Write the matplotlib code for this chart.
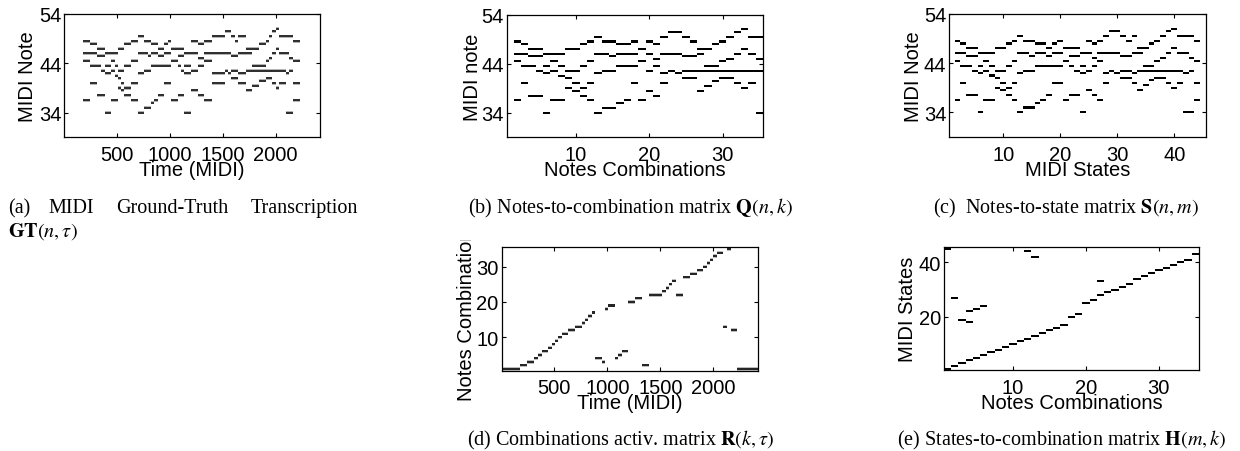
import matplotlib
matplotlib.use("Agg")
import matplotlib.pyplot as plt
from matplotlib.transforms import Bbox, TransformedBbox

# ---------------- data ----------------
# notes (MIDI note axis position) present in each notes combination k = 1..35
combo_ids = list(range(1, 36))
combo_notes = [
    [],
    [48.5, 46, 44.5, 36.5],
    [48, 46, 43.5, 40],
    [47, 45.5, 43.5, 37.5],
    [47, 45.5, 42.5, 37.5],
    [46, 43.5, 42, 34],
    [46, 44.5, 42.5, 36.5],
    [46, 43.5, 41.5, 36.5],
    [47, 42.5, 41, 39],
    [47, 42.5, 40, 38.5],
    [48, 43.5, 39, 37.5],
    [48.5, 44.5, 40, 36.5],
    [49.5, 46, 42, 34],
    [48.5, 46, 42.5, 35],
    [48.5, 45.5, 42.5, 35],
    [48, 46, 43.5, 36],
    [48, 46, 43.5, 36.5],
    [48.5, 46, 43.5, 40],
    [47, 44.5, 36.5],
    [48.5, 46, 42.5, 38.5],
    [48, 45, 43.5, 37.5],
    [49.5, 46, 42, 40],
    [50.5, 46, 42.5],
    [50.5, 46, 42],
    [49.5, 45.5, 42.5, 41],
    [48.5, 45.5, 42.5, 41],
    [47, 46, 42.5, 38.5],
    [47, 43.5, 42.5, 39.5],
    [48, 43.5, 42.5, 40.5],
    [48.5, 44.5, 42.5, 41],
    [49.5, 45, 42.5, 41],
    [50.5, 46, 42.5, 40],
    [51, 47, 42.5, 39],
    [49.5, 46, 42.5, 40],
    [49.5, 45, 42.5, 34],
]

# MIDI states m = 1..45 (temporal order) -> notes combination they use
state_ids = list(range(1, 46))
state_combo = [1, 2, 3, 4, 5, 6, 7, 8, 9, 10, 11, 12, 13, 14, 15, 16, 17,
               4, 3, 18, 19, 4, 5, 6, 20, 21, 2, 22, 23, 24, 25, 26, 22,
               27, 28, 29, 30, 31, 32, 33, 34, 13, 35, 12, 1]

# time boundaries (MIDI time units) of the 45 states
state_bounds = [0, 176, 239, 308, 349, 381, 443, 475, 506, 538, 569, 632, 695,
                758, 789, 821, 852, 884, 947, 978, 1010, 1072, 1104, 1135, 1198,
                1261, 1324, 1393, 1519, 1550, 1582, 1613, 1645, 1717, 1780, 1843,
                1906, 1937, 1969, 2000, 2032, 2095, 2126, 2164, 2227, 2420]

note_ticks = [34, 44, 54]
time_ticks = [500, 1000, 1500, 2000]
combo_ticks = [10, 20, 30]
state_ticks = [10, 20, 30, 40]
combo_yticks = [10, 20, 30]
state_yticks = [20, 40]

# ---------------- figure ----------------
W, H = 1240, 452
plt.rcParams['font.family'] = ['Liberation Sans', 'DejaVu Sans']
plt.rcParams['mathtext.fontset'] = 'stix'
fig = plt.figure(figsize=(W / 100, H / 100), dpi=100)

FS = 14.5
CAP_FS = 14.5
SERIF = ['Liberation Serif', 'DejaVu Serif']


def make_ax(l, t, r, b):
    ax = fig.add_axes([l / W, 1 - b / H, (r - l) / W, (b - t) / H])
    ax.tick_params(direction='in', top=True, right=True, length=3, width=0.8,
                   labelsize=FS)
    ax.tick_params(axis='x', pad=5.5)
    ax.tick_params(axis='y', pad=2)
    for s in ax.spines.values():
        s.set_linewidth(0.9)
    ax._box = (l, t, r, b)
    return ax


def ylab(ax, text, x_base):
    l, t, r, b = ax._box
    return ax.text((x_base - l) / (r - l), 0.5, text, rotation=90,
                   rotation_mode='anchor', ha='center', va='baseline',
                   transform=ax.transAxes, fontsize=FS)


def xlab(ax, text):
    l, t, r, b = ax._box
    ax.text(0.5, -37.7 / (b - t), text, ha='center', va='baseline',
            transform=ax.transAxes, fontsize=FS)


BAR_H = 0.42

# flattened tables
q_x, q_y = [], []
for k, notes in zip(combo_ids, combo_notes):
    for n in notes:
        q_x.append(k)
        q_y.append(n)

s_x, s_y = [], []
gt_left, gt_w, gt_y = [], [], []
r_left, r_w = [], []
for i, (m, k) in enumerate(zip(state_ids, state_combo)):
    t0, t1 = state_bounds[i], state_bounds[i + 1]
    r_left.append(t0)
    r_w.append(t1 - t0)
    for n in combo_notes[k - 1]:
        s_x.append(m)
        s_y.append(n)
        gt_left.append(t0)
        gt_w.append(t1 - t0)
        gt_y.append(n)

# (a) ground truth
axa = make_ax(64.4, 15, 320, 138.3)
axa.barh(gt_y, gt_w, left=gt_left, height=0.62, color='#b4b4b4', linewidth=0)
axa.barh(gt_y, gt_w, left=gt_left, height=0.40, color='#303030', linewidth=0)
axa.set_xlim(0, 2420)
axa.set_ylim(29, 54)
axa.set_xticks(time_ticks)
axa.set_yticks(note_ticks)
ylab(axa, 'MIDI Note', 33.3)
xlab(axa, 'Time (MIDI)')

# (b) Q matrix
axb = make_ax(506.5, 15.5, 763, 138.3)
axb.bar(q_x, [BAR_H] * len(q_y), bottom=[y - BAR_H / 2 for y in q_y],
        width=1.0, color='k', linewidth=0)
axb.set_xlim(0.5, 35.5)
axb.set_ylim(29, 54)
axb.set_xticks(combo_ticks)
axb.set_yticks(note_ticks)
ylab(axb, 'MIDI note', 478.3)
xlab(axb, 'Notes Combinations')

# (c) S matrix
axc = make_ax(949, 15, 1205.7, 138)
axc.bar(s_x, [BAR_H] * len(s_y), bottom=[y - BAR_H / 2 for y in s_y],
        width=1.0, color='k', linewidth=0)
axc.set_xlim(0.5, 45.5)
axc.set_ylim(29, 54)
axc.set_xticks(state_ticks)
axc.set_yticks(note_ticks)
ylab(axc, 'MIDI Note', 919)
xlab(axc, 'MIDI States')

# (d) R matrix
axd = make_ax(501.5, 248.3, 757.7, 371.7)
axd.barh(state_combo, r_w, left=r_left, height=0.95, color='#bdbdbd',
         linewidth=0)
axd.barh(state_combo, r_w, left=r_left, height=0.6, color='#262626',
         linewidth=0)
axd.set_xlim(0, 2420)
axd.set_ylim(0.5, 35.5)
axd.set_xticks(time_ticks)
axd.set_yticks(combo_yticks)
lab_d = ylab(axd, 'Notes Combinations', 471.7)
lab_d.set_clip_box(TransformedBbox(Bbox.from_extents(0, 0, 1, (H - 241) / H),
                                   fig.transFigure))
lab_d.set_clip_on(True)
xlab(axd, 'Time (MIDI)')

# (e) H matrix
axe = make_ax(943.7, 248.3, 1199, 371)
axe.bar(state_combo, [0.72] * len(state_ids),
        bottom=[m - 0.36 for m in state_ids], width=1.0, color='k', linewidth=0)
axe.set_xlim(0.5, 35.5)
axe.set_ylim(0.5, 45.5)
axe.set_xticks(combo_ticks)
axe.set_yticks(state_yticks)
ylab(axe, 'MIDI States', 913)
xlab(axe, 'Notes Combinations')

# ---------------- captions ----------------
def cap(x, y, text, ha='left'):
    fig.text(x / W, 1 - y / H, text, ha=ha, va='baseline', fontsize=CAP_FS,
             family=SERIF)

cap(8, 213, '(a)')
cap(48, 213, 'MIDI')
cap(116, 213, 'Ground-Truth')
cap(358, 213, 'Transcription', ha='right')
cap(8, 237, r'$\mathbf{GT}(n,\tau)$')
cap(630, 213, r'(b) Notes-to-combination matrix $\mathbf{Q}(n,k)$', ha='center')
cap(1066, 213, r'(c)  Notes-to-state matrix $\mathbf{S}(n,m)$', ha='center')
cap(621, 445, r'(d) Combinations activ. matrix $\mathbf{R}(k,\tau)$', ha='center')
cap(1062, 445, r'(e) States-to-combination matrix $\mathbf{H}(m,k)$', ha='center')

fig.savefig('out.png', dpi=100)
